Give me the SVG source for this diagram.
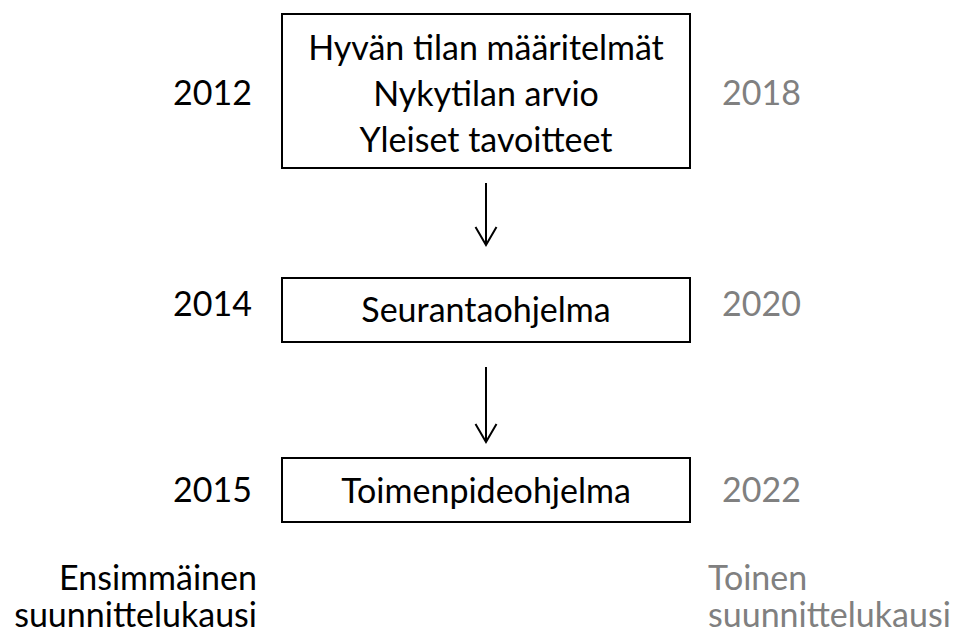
<svg xmlns="http://www.w3.org/2000/svg" width="958" height="635" viewBox="0 0 958 635">
<style>
text{font-family:Lato,"Open Sans","Liberation Sans",sans-serif;font-size:34px;fill:#000}
.g{fill:#808080}
.box{fill:#fff;stroke:#000;stroke-width:2}
.c{stroke:#000;stroke-width:2;fill:none}
.mid{text-anchor:middle}
.end{text-anchor:end}
</style>
<defs>
<marker id="v" viewBox="-20 -12 22 24" markerWidth="22" markerHeight="24" refX="0" refY="0" orient="auto" markerUnits="userSpaceOnUse">
<path d="M-18,-10.5 L0,0 L-18,10.5" fill="none" stroke="#000" stroke-width="2"/>
</marker>
</defs>
<rect width="958" height="635" fill="#fff"/>
<g id="connectors">
<line class="c" x1="486" y1="183" x2="486" y2="245" marker-end="url(#v)"/>
<line class="c" x1="486" y1="367" x2="486" y2="442" marker-end="url(#v)"/>
</g>
<g id="node1">
<rect class="box" x="282" y="14" width="408" height="154"/>
<text class="mid" x="486" y="60">Hyvän tilan määritelmät</text>
<text class="mid" x="486" y="106">Nykytilan arvio</text>
<text class="mid" x="486" y="152">Yleiset tavoitteet</text>
</g>
<g id="node2">
<rect class="box" x="282" y="278" width="408" height="64"/>
<text class="mid" x="486" y="322">Seurantaohjelma</text>
</g>
<g id="node3">
<rect class="box" x="282" y="458" width="408" height="64"/>
<text class="mid" x="486" y="503">Toimenpideohjelma</text>
</g>
<g id="years1">
<text class="end" x="252" y="105">2012</text>
<text class="end" x="252" y="316">2014</text>
<text class="end" x="252" y="502">2015</text>
<text class="end" x="257" y="590">Ensimmäinen</text>
<text class="end" x="257" y="627">suunnittelukausi</text>
</g>
<g id="years2">
<text class="g" x="722" y="105">2018</text>
<text class="g" x="722" y="316">2020</text>
<text class="g" x="722" y="502">2022</text>
<text class="g" x="708" y="590">Toinen</text>
<text class="g" x="708" y="627">suunnittelukausi</text>
</g>
</svg>
